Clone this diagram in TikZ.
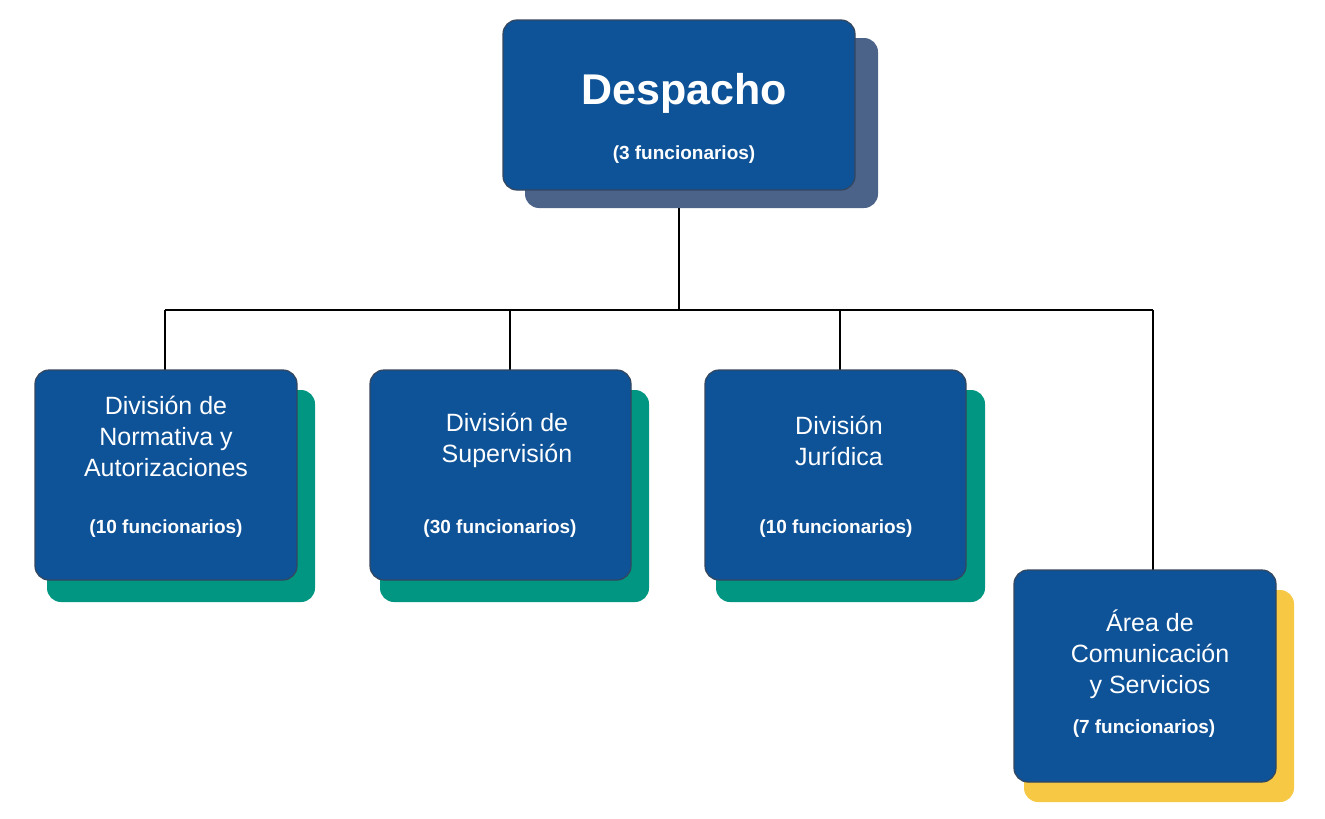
\documentclass[tikz,border=0pt]{standalone}
\usepackage{fontspec}
\setmainfont{Liberation Sans}
\definecolor{boxblue}{HTML}{0E5297}
\definecolor{boxedge}{HTML}{34475E}
\definecolor{slate}{HTML}{4B6289}
\definecolor{teal}{HTML}{009681}
\definecolor{gold}{HTML}{F6C843}
\begin{document}
\begin{tikzpicture}[x=1pt,y=-1pt,
  card/.style={fill=boxblue,draw=boxedge,line width=1.2pt,rounded corners=14pt},
  shad/.style={rounded corners=14pt},
  ttl/.style={text=white,font=\fontsize{25}{31}\selectfont,align=center},
  cnt/.style={text=white,font=\bfseries\fontsize{19}{23}\selectfont},
  wire/.style={line width=1.6pt,black}]
\useasboundingbox (0,0) rectangle (1325,819);
% top
\fill[slate,shad] (525,38) rectangle (878,208);
\draw[card] (503,20) rectangle (855,190);
\node[text=white,font=\bfseries\fontsize{43}{50}\selectfont] (desp) at (684,93) {Despacho};
\node[cnt] (dc) at (684,155) {(3 funcionarios)};
\coordinate (top) at (679,208);
\coordinate (mid) at (679,310);
\coordinate (l) at (165,310);
\coordinate (r) at (1153,310);
\coordinate (d2) at (510,310);
\coordinate (d3) at (840,310);
\coordinate (b1) at (165,370);
\coordinate (b2) at (510,370);
\coordinate (b3) at (840,370);
\coordinate (b4) at (1153,570);
\draw[wire] (top) -- (mid);
\draw[wire] (l) -- (r);
\draw[wire] (l) -- (b1);
\draw[wire] (d2) -- (b2);
\draw[wire] (d3) -- (b3);
\draw[wire] (r) -- (b4);
% boxes
\fill[teal,shad] (47,390) rectangle (315,602);
\draw[card] (35,370) rectangle (297,580);
\node[ttl] (t1) at (166,436) {División de\\Normativa y\\Autorizaciones};
\node[cnt] (c1) at (166,529) {(10 funcionarios)};
\fill[teal,shad] (380,390) rectangle (649,602);
\draw[card] (370,370) rectangle (631,580);
\node[ttl] (t2) at (507,440) {División de\\Supervisión};
\node[cnt] (c2) at (500,529) {(30 funcionarios)};
\fill[teal,shad] (716,390) rectangle (985,602);
\draw[card] (705,370) rectangle (966,580);
\node[ttl] (t3) at (839,441) {División\\Jurídica};
\node[cnt] (c3) at (836,529) {(10 funcionarios)};
\fill[gold,shad] (1024,590) rectangle (1294,802);
\draw[card] (1014,570) rectangle (1276,782);
\node[ttl] (t4) at (1150,654) {Área de\\Comunicación\\y Servicios};
\node[cnt] (c4) at (1144,729) {(7 funcionarios)};
\end{tikzpicture}
\end{document}
